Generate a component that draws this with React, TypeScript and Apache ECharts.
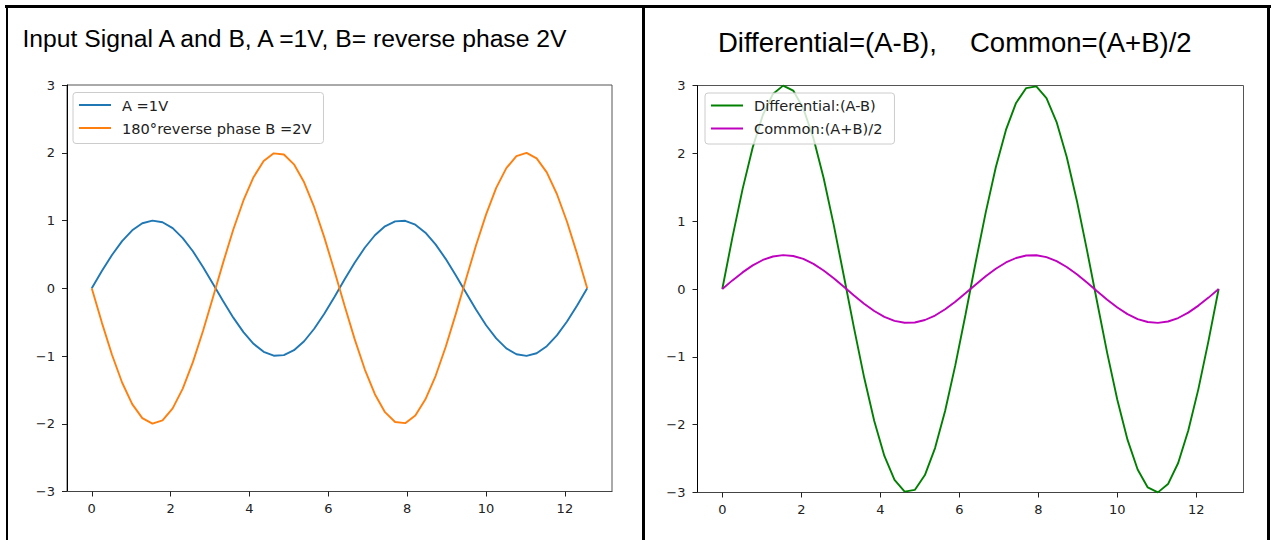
import React, { useEffect, useRef } from "react";
import * as echarts from "echarts";

const X = [
  0, 0.256, 0.513, 0.769, 1.026, 1.282, 1.539, 1.795, 2.052, 2.308, 2.565, 2.821, 3.077, 3.334, 3.59, 3.847, 4.103,
  4.36, 4.616, 4.873, 5.129, 5.386, 5.642, 5.898, 6.155, 6.411, 6.668, 6.924, 7.181, 7.437, 7.694, 7.95, 8.207, 8.463,
  8.72, 8.976, 9.232, 9.489, 9.745, 10.002, 10.258, 10.515, 10.771, 11.028, 11.284, 11.541, 11.797, 12.054, 12.31,
  12.566,
];
const A = [
  0, 0.254, 0.491, 0.696, 0.855, 0.959, 0.999, 0.975, 0.887, 0.74, 0.546, 0.315, 0.064, -0.191, -0.434, -0.648, -0.82,
  -0.938, -0.996, -0.987, -0.914, -0.782, -0.598, -0.375, -0.128, 0.128, 0.375, 0.598, 0.782, 0.914, 0.987, 0.996,
  0.938, 0.82, 0.648, 0.434, 0.191, -0.064, -0.315, -0.546, -0.74, -0.887, -0.975, -0.999, -0.959, -0.855, -0.696,
  -0.491, -0.254, 0,
];
const B = [
  0, -0.507, -0.981, -1.391, -1.71, -1.917, -1.999, -1.95, -1.773, -1.481, -1.091, -0.63, -0.128, 0.382, 0.868, 1.296,
  1.64, 1.877, 1.991, 1.974, 1.829, 1.564, 1.196, 0.751, 0.256, -0.256, -0.751, -1.196, -1.564, -1.829, -1.974, -1.991,
  -1.877, -1.64, -1.296, -0.868, -0.382, 0.128, 0.63, 1.091, 1.481, 1.773, 1.95, 1.999, 1.917, 1.71, 1.391, 0.981,
  0.507, 0,
];
const DIFF = [
  0, 0.761, 1.472, 2.087, 2.565, 2.876, 2.998, 2.925, 2.66, 2.221, 1.637, 0.945, 0.192, -0.573, -1.302, -1.945, -2.461,
  -2.815, -2.987, -2.962, -2.743, -2.345, -1.794, -1.126, -0.384, 0.384, 1.126, 1.794, 2.345, 2.743, 2.962, 2.987,
  2.815, 2.461, 1.945, 1.302, 0.573, -0.192, -0.945, -1.637, -2.221, -2.66, -2.925, -2.998, -2.876, -2.565, -2.087,
  -1.472, -0.761, 0,
];
const COMMON = [
  0, 0.127, 0.245, 0.348, 0.428, 0.479, 0.5, 0.487, 0.443, 0.37, 0.273, 0.158, 0.032, -0.096, -0.217, -0.324, -0.41,
  -0.469, -0.498, -0.494, -0.457, -0.391, -0.299, -0.188, -0.064, 0.064, 0.188, 0.299, 0.391, 0.457, 0.494, 0.498,
  0.469, 0.41, 0.324, 0.217, 0.096, -0.032, -0.158, -0.273, -0.37, -0.443, -0.487, -0.5, -0.479, -0.428, -0.348,
  -0.245, -0.127, 0,
];

const X_TICKS = [0, 2, 4, 6, 8, 10, 12];
const Y_TICKS = [-3, -2, -1, 0, 1, 2, 3];

const LEFT_TITLE = "Input Signal A and B, A =1V, B= reverse phase 2V";
const RIGHT_TITLE_1 = "Differential=(A-B),";
const RIGHT_TITLE_2 = "Common=(A+B)/2";

const NAME_A = "A =1V";
const NAME_B = "180°reverse phase B =2V";
const NAME_DIFF = "Differential:(A-B)";
const NAME_COMMON = "Common:(A+B)/2";

const X_MIN = -0.628;
const X_MAX = 13.195;

const TICK_FONT = "'DejaVu Sans', sans-serif";
const TITLE_FONT = "'Liberation Sans', Arial, sans-serif";

function pairs(xs: number[], ys: number[]) {
  return xs.map((x, i) => [x, ys[i]]);
}

function xAxis(gridIndex: number) {
  return {
    type: "value",
    gridIndex,
    min: X_MIN,
    max: X_MAX,
    axisLine: { show: true, onZero: false, lineStyle: { color: "#444", width: 1 } },
    axisTick: { show: true, length: 5, customValues: X_TICKS, lineStyle: { color: "#222", width: 1 } },
    axisLabel: {
      customValues: X_TICKS,
      margin: 10,
      fontSize: 13,
      fontFamily: TICK_FONT,
      color: "#222",
    },
    splitLine: { show: false },
  };
}

function yAxis(gridIndex: number) {
  return {
    type: "value",
    gridIndex,
    min: Y_TICKS[0],
    max: Y_TICKS[Y_TICKS.length - 1],
    interval: 1,
    axisLine: { show: true, onZero: false, lineStyle: { color: "#000", width: 1 } },
    axisTick: { show: true, length: 5, lineStyle: { color: "#222", width: 1 } },
    axisLabel: {
      margin: 12,
      fontSize: 13,
      fontFamily: TICK_FONT,
      color: "#222",
      formatter: (v: number) => (v < 0 ? "\u2212" + Math.abs(v) : String(v)),
    },
    splitLine: { show: false },
  };
}

function legend(names: string[], left: number, top: number) {
  return {
    show: true,
    orient: "vertical",
    left,
    top,
    data: names,
    icon: "rect",
    itemWidth: 32,
    itemHeight: 2,
    itemGap: 6,
    padding: [4, 12, 7, 6],
    backgroundColor: "rgba(255,255,255,0.8)",
    borderColor: "#cccccc",
    borderWidth: 1,
    borderRadius: 3,
    textStyle: {
      fontSize: 14.6,
      fontFamily: TICK_FONT,
      color: "#222",
      lineHeight: 17,
      padding: [0, 0, 0, 6],
    },
    selectedMode: false,
  };
}

function lineSeries(name: string, xi: number, data: number[][], color: string) {
  return {
    type: "line",
    name,
    xAxisIndex: xi,
    yAxisIndex: xi,
    data,
    showSymbol: false,
    symbol: "none",
    clip: false,
    lineStyle: { color, width: 1.9 },
    itemStyle: { color },
    emphasis: { disabled: true },
  };
}

export default function App() {
  const ref = useRef<HTMLDivElement>(null);

  useEffect(() => {
    if (!ref.current) return;
    const chart = echarts.init(ref.current, null, { renderer: "svg" });
    const border = { stroke: "#000", lineWidth: 3 };
    chart.setOption({
      animation: false,
      backgroundColor: "#ffffff",
      grid: [
        { left: 67, top: 85, width: 545, height: 406.5, show: true, borderColor: "#555", borderWidth: 1, backgroundColor: "transparent" },
        { left: 697.5, top: 85.5, width: 546, height: 407, show: true, borderColor: "#555", borderWidth: 1, backgroundColor: "transparent" },
      ],
      xAxis: [xAxis(0), xAxis(1)],
      yAxis: [yAxis(0), yAxis(1)],
      legend: [legend([NAME_A, NAME_B], 73, 92.5), legend([NAME_DIFF, NAME_COMMON], 705, 93)],
      series: [
        lineSeries(NAME_A, 0, pairs(X, A), "#1f77b4"),
        lineSeries(NAME_B, 0, pairs(X, B), "#ff7f0e"),
        lineSeries(NAME_DIFF, 1, pairs(X, DIFF), "#008000"),
        lineSeries(NAME_COMMON, 1, pairs(X, COMMON), "#bf00bf"),
      ],
      graphic: [
        { type: "line", shape: { x1: 5, y1: 6.5, x2: 1271, y2: 6.5 }, style: border, silent: true },
        { type: "line", shape: { x1: 7, y1: 5, x2: 7, y2: 540 }, style: { stroke: "#000", lineWidth: 2 }, silent: true },
        { type: "line", shape: { x1: 643.5, y1: 5, x2: 643.5, y2: 540 }, style: border, silent: true },
        { type: "line", shape: { x1: 1268.5, y1: 5, x2: 1268.5, y2: 540 }, style: border, silent: true },
        {
          type: "text",
          left: 22.5,
          top: 25.5,
          style: { text: LEFT_TITLE, fontSize: 24.7, fontFamily: TITLE_FONT, fill: "#000" },
          silent: true,
        },
        {
          type: "text",
          left: 718,
          top: 28,
          style: { text: RIGHT_TITLE_1, fontSize: 27.5, fontFamily: TITLE_FONT, fill: "#000" },
          silent: true,
        },
        {
          type: "text",
          left: 970,
          top: 28,
          style: { text: RIGHT_TITLE_2, fontSize: 27.5, fontFamily: TITLE_FONT, fill: "#000" },
          silent: true,
        },
      ],
    });
    return () => chart.dispose();
  }, []);

  return (
    <div
      ref={ref}
      style={{ position: "fixed", left: 0, top: 0, width: 1271, height: 540, background: "#fff" }}
    />
  );
}
